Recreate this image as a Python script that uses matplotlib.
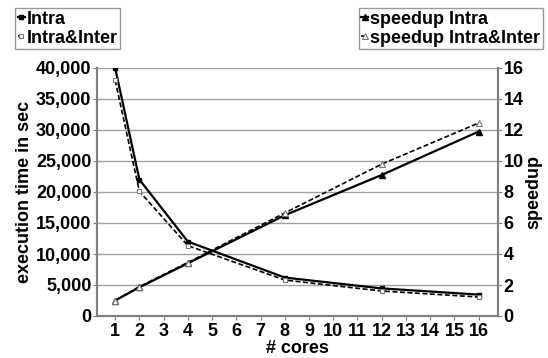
import matplotlib
matplotlib.use("Agg")
import matplotlib.pyplot as plt
from matplotlib.ticker import FuncFormatter

cores = [1, 2, 4, 8, 12, 16]
time_intra = [40000, 22000, 12000, 6200, 4450, 3450]
time_inter = [38000, 20100, 11350, 5800, 4030, 3060]
speedup_intra = [1.0, 1.85, 3.4, 6.5, 9.1, 11.9]
speedup_inter = [1.0, 1.9, 3.45, 6.65, 9.8, 12.45]
xticks = list(range(1, 17))

plt.rcParams['font.family'] = ['Liberation Sans', 'DejaVu Sans']
plt.rcParams['font.weight'] = 'bold'

fig = plt.figure(figsize=(5.48, 3.58), dpi=100)
ax = fig.add_axes([97/548, 1-316/358, (498-97)/548, (316-68)/358])
ax2 = ax.twinx()

gray = '#808080'
l1, = ax.plot(cores, time_intra, color='black', lw=1.6, marker='s', ms=3.5,
              mfc='black', mec='black', label='Intra')
l2, = ax.plot(cores, time_inter, color='black', lw=1.2, ls=(0, (3, 1.5)), marker='s', ms=3.5,
              mfc='white', mec='#777777', mew=0.8, label='Intra&Inter')
l3, = ax2.plot(cores, speedup_intra, color='black', lw=1.6, marker='^', ms=4.5,
               mfc='black', mec='black', label='speedup Intra')
l4, = ax2.plot(cores, speedup_inter, color='black', lw=1.2, ls=(0, (3, 1.5)), marker='^', ms=4.5,
               mfc='white', mec='#777777', mew=0.8, label='speedup Intra&Inter')

ax.set_xlim(0.25, 16.8)
ax.set_ylim(0, 40000)
ax2.set_ylim(0, 16)
ax.set_yticks(range(0, 40001, 5000))
ax2.set_yticks(range(0, 17, 2))
ax.set_xticks(xticks)
ax.yaxis.set_major_formatter(FuncFormatter(lambda v, p: f"{int(v):,}"))
ax.grid(axis='y', color='#a0a0a0', lw=1.0)
ax.set_axisbelow(True)

for a in (ax, ax2):
    a.spines['top'].set_visible(False)
    for s in ('left', 'right', 'bottom'):
        a.spines[s].set_color(gray)
        a.spines[s].set_linewidth(1.5)

ax.tick_params(axis='x', labelsize=13, length=3, color=gray, pad=2)
ax.tick_params(axis='y', labelsize=13, length=3, color=gray, pad=1)
ax2.tick_params(axis='y', labelsize=13, length=3, color=gray, pad=1)
for lab in ax.get_xticklabels() + ax.get_yticklabels() + ax2.get_yticklabels():
    lab.set_fontweight('bold')

ax.set_xlabel('# cores', fontsize=13, fontweight='bold', labelpad=0)
ax.set_ylabel('execution time in sec', fontsize=13, fontweight='bold', labelpad=2)
ax2.set_ylabel('speedup', fontsize=13, fontweight='bold', labelpad=1)

leg_kw = dict(frameon=True, fancybox=False, handlelength=0.4, handletextpad=0.1,
              borderpad=0.15, labelspacing=0.1, borderaxespad=0,
              prop={'weight': 'bold', 'size': 13})
leg1 = fig.legend(handles=[l1, l2], loc='upper left', bbox_to_anchor=(15/548, 1-8/358), **leg_kw)
leg2 = fig.legend(handles=[l3, l4], loc='upper right', bbox_to_anchor=(543/548, 1-8/358), **leg_kw)
for lg in (leg1, leg2):
    lg.get_frame().set_edgecolor(gray)
    lg.get_frame().set_linewidth(1.0)

fig.savefig('out.png', dpi=100)
